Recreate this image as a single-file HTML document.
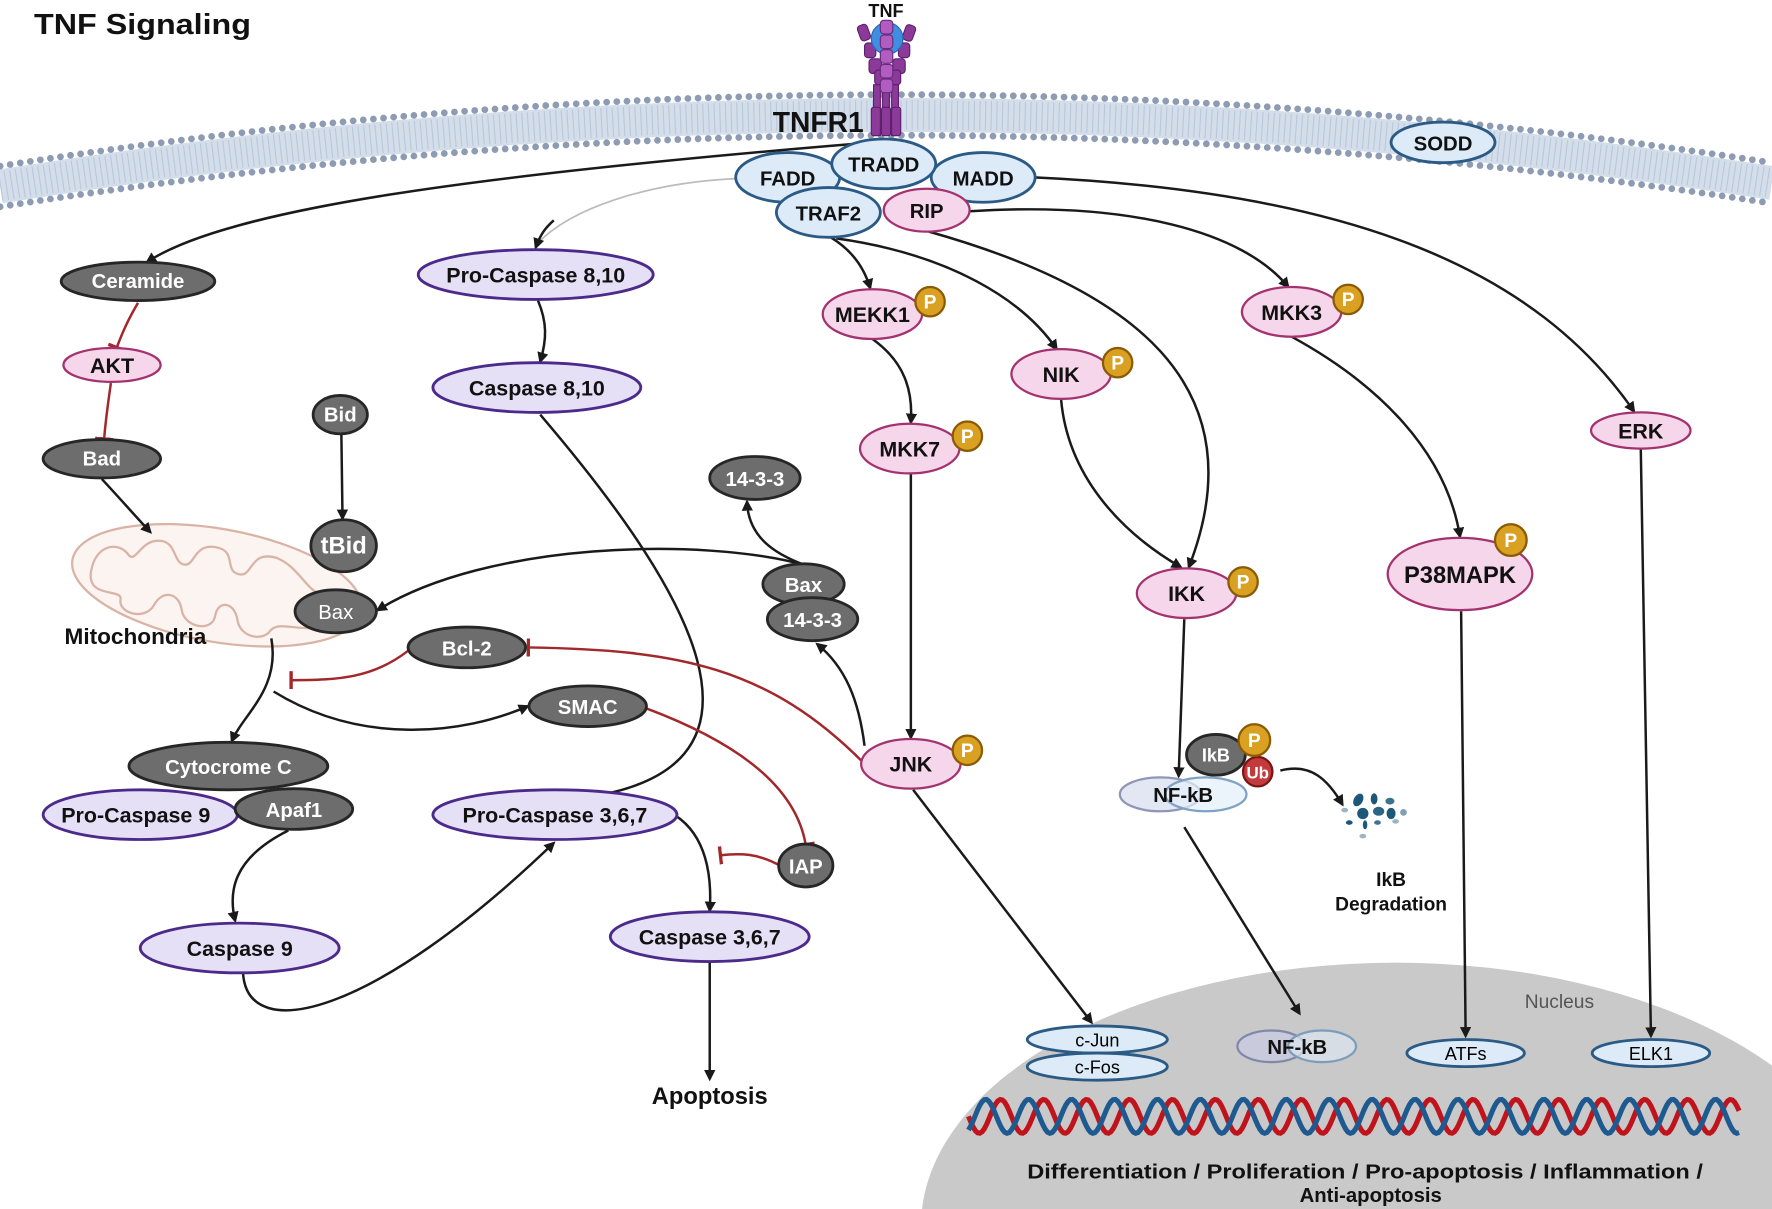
<!DOCTYPE html>
<html><head><meta charset="utf-8">
<style>
html,body{margin:0;padding:0;background:#fff;overflow:hidden;width:1772px;height:1209px;}
svg{display:block;}
text{font-family:"Liberation Sans Narrow","Liberation Sans",sans-serif;font-weight:bold;}
.g{fill:#6d6d6d;stroke:#262626;stroke-width:2.5}
.p{fill:#e6e0f6;stroke:#4b2a8c;stroke-width:2.5}
.k{fill:#f6d6ea;stroke:#a3326f;stroke-width:2}
.b{fill:#dcebf7;stroke:#2b5a85;stroke-width:2.5}
.wt{fill:#fff;font-size:18px;text-anchor:middle}
.bt{fill:#111;font-size:19px;text-anchor:middle}
.a{fill:none;stroke:#1a1a1a;stroke-width:2.2;marker-end:url(#ar)}
.r{fill:none;stroke:#a2282c;stroke-width:2.2;marker-end:url(#tb)}
.P{fill:#d9a021;stroke:#8a5a05;stroke-width:2}
.Pt{fill:#fff;font-size:17px;text-anchor:middle;font-family:"Liberation Sans",sans-serif}
</style></head>
<body>
<svg width="1772" height="1209" viewBox="0 0 1568 1070" xmlns="http://www.w3.org/2000/svg">
<defs>
<marker id="ar" markerWidth="10" markerHeight="10" refX="8" refY="5" orient="auto" markerUnits="userSpaceOnUse" viewBox="0 0 10 10"><path d="M0,0 L10,5 L0,10 z" fill="#1a1a1a"/></marker>
<marker id="tb" markerWidth="4" markerHeight="16" refX="2" refY="8" orient="auto" markerUnits="userSpaceOnUse" viewBox="0 0 4 16"><rect x="0" y="0" width="3" height="16" fill="#a2282c"/></marker>
</defs>

<!-- nucleus -->
<ellipse cx="1235" cy="1085" rx="420" ry="233" fill="#c9c9c9"/>
<g id="dna"></g>

<!-- membrane -->
<path d="M0,165 Q784,40 1568,162" fill="none" stroke="#d4deea" stroke-width="30"/>
<path d="M0,165 Q784,40 1568,162" fill="none" stroke="#b9c8da" stroke-width="26" stroke-dasharray="1 4"/>
<path d="M0,147 Q784,22 1568,144" fill="none" stroke="#8d9cb2" stroke-width="6" stroke-linecap="round" stroke-dasharray="0 9"/>
<path d="M0,183 Q784,58 1568,180" fill="none" stroke="#8d9cb2" stroke-width="6" stroke-linecap="round" stroke-dasharray="0 9"/>

<!-- TNF receptor -->
<g fill="#8c3a9a" stroke="#5e1f6b" stroke-width="1">
<rect x="773" y="75" width="6" height="45"/><rect x="781" y="75" width="6" height="45"/><rect x="789" y="75" width="6" height="45"/>
<rect x="771" y="95" width="8" height="25" rx="2"/><rect x="780" y="95" width="8" height="25" rx="2"/><rect x="789" y="95" width="8" height="25" rx="2"/>
<rect x="760" y="22" width="9" height="14" rx="3" transform="rotate(-20 764 29)"/>
<rect x="800" y="22" width="9" height="14" rx="3" transform="rotate(20 804 29)"/>
<rect x="765" y="38" width="10" height="13" rx="3"/><rect x="795" y="38" width="10" height="13" rx="3"/>
<rect x="769" y="52" width="11" height="13" rx="3"/><rect x="790" y="52" width="11" height="13" rx="3"/>
<rect x="774" y="62" width="11" height="13" rx="3"/><rect x="786" y="62" width="11" height="13" rx="3"/>
</g>
<circle cx="785" cy="34" r="14" fill="#3f8ee0" stroke="#2a66b0"/>
<g fill="#b05cc0" stroke="#6a2a7a" stroke-width="1">
<rect x="779" y="18" width="11" height="12" rx="3"/><rect x="779" y="31" width="11" height="12" rx="3"/><rect x="779" y="44" width="11" height="12" rx="3"/><rect x="779" y="57" width="11" height="12" rx="3"/><rect x="779" y="70" width="11" height="12" rx="3"/>
</g>
<text x="784" y="15" class="bt" style="font-size:16px;font-family:'Liberation Sans',sans-serif">TNF</text>
<text x="724" y="117" class="bt" style="font-size:25px;font-family:'Liberation Sans',sans-serif">TNFR1</text>
<text x="30" y="30" style="font-size:25px;font-family:'Liberation Sans',sans-serif" fill="#111" textLength="192" lengthAdjust="spacingAndGlyphs">TNF Signaling</text>

<!-- mitochondria -->
<g transform="rotate(10 192 518)">
<ellipse cx="192" cy="518" rx="130" ry="50" fill="#fcf4f1" stroke="#d9b3a6" stroke-width="2"/>
<path d="M80,525 C80,500 100,495 110,505 C118,512 118,490 135,488 C150,486 150,505 160,505 C170,505 165,485 185,485 C205,485 195,505 210,505 C222,505 215,482 240,485 C262,490 270,510 290,512 C305,515 305,535 285,540 C265,545 250,540 245,550 C240,560 220,560 215,545 C210,530 195,530 195,545 C195,560 170,560 165,545 C160,530 145,530 140,545 C135,560 110,558 110,545 C110,535 80,550 80,525 Z" fill="none" stroke="#d9b3a6" stroke-width="2"/>
</g>
<text x="57" y="570" style="font-size:20px;font-family:'Liberation Sans',sans-serif" fill="#111">Mitochondria</text>

<!-- arrows -->
<path class="a" d="M760,127 C420,155 200,185 130,232"/>
<path d="M652,158 C570,162 505,185 476,215" fill="none" stroke="#bbb" stroke-width="1.5"/>
<path class="a" d="M490,195 C482,202 478,208 474,219"/>
<path class="a" d="M476,266 C484,285 484,300 478,320"/>
<path class="a" d="M478,367 C600,510 720,690 497,708"/>
<path class="a" d="M735,210 C755,222 765,238 770,255"/>
<path class="a" d="M740,211 C840,225 905,265 935,309"/>
<path class="a" d="M822,205 C1000,255 1115,340 1052,502"/>
<path class="a" d="M858,187 C1000,178 1100,205 1140,254"/>
<path class="a" d="M915,157 C1200,170 1360,240 1446,364"/>
<path class="a" d="M772,300 C800,320 808,345 806,374"/>
<path class="a" d="M806,420 L806,653"/>
<path class="a" d="M939,354 C945,420 990,470 1045,502"/>
<path class="a" d="M1143,298 C1220,340 1280,400 1292,475"/>
<path class="a" d="M1452,397 L1461,917"/>
<path class="a" d="M1293,541 L1297,917"/>
<path class="a" d="M1048,548 L1043,687"/>
<path class="a" d="M1048,732 L1150,897"/>
<path class="a" d="M808,699 L966,905"/>
<path class="a" d="M765,660 C760,620 748,590 723,570"/>
<path class="a" d="M712,500 C685,490 662,475 661,444"/>
<path class="a" d="M712,500 C620,475 430,480 334,540"/>
<path class="a" d="M90,424 C105,440 118,455 133,471"/>
<path class="a" d="M302,385 L303,459"/>
<path class="a" d="M240,565 C248,610 215,632 205,656"/>
<path class="a" d="M242,612 C320,660 410,650 467,625"/>
<path class="a" d="M255,735 C205,760 202,790 208,815"/>
<path class="a" d="M215,862 C220,925 330,900 490,746"/>
<path class="a" d="M598,722 C625,740 630,775 628,806"/>
<path class="a" d="M628,852 L628,955"/>
<path class="a" d="M1133,682 C1160,675 1175,690 1188,712"/>
<!-- inhibitions -->
<path class="r" d="M122,268 C112,285 108,295 103,308"/>
<path class="r" d="M98,339 C95,360 93,375 92,389"/>
<path class="r" d="M361,576 C330,600 300,602 257,602"/>
<path class="r" d="M765,676 C680,590 600,575 467,573"/>
<path class="r" d="M572,627 C660,660 705,700 713,748"/>
<path class="r" d="M690,766 C670,755 655,755 637,757"/>

<!-- grey nodes -->
<g>
<ellipse class="g" cx="122" cy="249" rx="68" ry="17"/><text class="wt" x="122" y="255">Ceramide</text>
<ellipse class="g" cx="90" cy="406" rx="52" ry="17"/><text class="wt" x="90" y="412">Bad</text>
<ellipse class="g" cx="301" cy="367" rx="24" ry="17"/><text class="wt" x="301" y="373">Bid</text>
<ellipse class="g" cx="304" cy="483" rx="29" ry="23" stroke-width="3"/><text class="wt" x="304" y="490" style="font-size:21px">tBid</text>
<ellipse class="g" cx="297" cy="541" rx="36" ry="19"/><text class="wt" x="297" y="548" style="font-weight:normal;font-family:'Liberation Sans',sans-serif">Bax</text>
<ellipse class="g" cx="668" cy="423" rx="40" ry="19"/><text class="wt" x="668" y="430">14-3-3</text>
<ellipse class="g" cx="711" cy="517" rx="36" ry="18"/><text class="wt" x="711" y="524">Bax</text>
<ellipse class="g" cx="719" cy="548" rx="40" ry="19"/><text class="wt" x="719" y="555">14-3-3</text>
<ellipse class="g" cx="413" cy="573" rx="52" ry="18"/><text class="wt" x="413" y="580">Bcl-2</text>
<ellipse class="g" cx="520" cy="625" rx="52" ry="18"/><text class="wt" x="520" y="632">SMAC</text>
<ellipse class="g" cx="202" cy="678" rx="88" ry="21"/><text class="wt" x="202" y="685">Cytocrome C</text>
<ellipse class="p" cx="124" cy="721" rx="86" ry="22"/><text class="bt" x="120" y="728">Pro-Caspase 9</text>
<ellipse class="g" cx="260" cy="716" rx="52" ry="18"/><text class="wt" x="260" y="723">Apaf1</text>
<ellipse class="g" cx="713" cy="766" rx="24" ry="19"/><text class="wt" x="713" y="773">IAP</text>
</g>
<!-- purple -->
<ellipse class="p" cx="474" cy="243" rx="104" ry="22"/><text class="bt" x="474" y="250">Pro-Caspase 8,10</text>
<ellipse class="p" cx="475" cy="343" rx="92" ry="22"/><text class="bt" x="475" y="350">Caspase 8,10</text>
<ellipse class="p" cx="491" cy="721" rx="108" ry="22"/><text class="bt" x="491" y="728">Pro-Caspase 3,6,7</text>
<ellipse class="p" cx="212" cy="839" rx="88" ry="22"/><text class="bt" x="212" y="846">Caspase 9</text>
<ellipse class="p" cx="628" cy="829" rx="88" ry="22"/><text class="bt" x="628" y="836">Caspase 3,6,7</text>
<!-- pink -->
<ellipse class="k" cx="99" cy="323" rx="43" ry="15"/><text class="bt" x="99" y="330">AKT</text>
<ellipse class="k" cx="772" cy="278" rx="44" ry="22"/><text class="bt" x="772" y="285">MEKK1</text>
<ellipse class="k" cx="939" cy="331" rx="44" ry="22"/><text class="bt" x="939" y="338">NIK</text>
<ellipse class="k" cx="805" cy="397" rx="44" ry="22"/><text class="bt" x="805" y="404">MKK7</text>
<ellipse class="k" cx="1143" cy="276" rx="44" ry="22"/><text class="bt" x="1143" y="283">MKK3</text>
<ellipse class="k" cx="1452" cy="381" rx="44" ry="16"/><text class="bt" x="1452" y="388">ERK</text>
<ellipse class="k" cx="1050" cy="525" rx="44" ry="22"/><text class="bt" x="1050" y="532">IKK</text>
<ellipse class="k" cx="1292" cy="508" rx="64" ry="32"/><text class="bt" x="1292" y="516" style="font-size:21px">P38MAPK</text>
<ellipse class="k" cx="806" cy="676" rx="44" ry="22"/><text class="bt" x="806" y="683">JNK</text>
<!-- complex -->
<ellipse class="b" cx="697" cy="157" rx="46" ry="22"/><text class="bt" x="697" y="164" style="font-family:'Liberation Sans',sans-serif;font-size:18px">FADD</text>
<ellipse class="b" cx="870" cy="157" rx="46" ry="22"/><text class="bt" x="870" y="164" style="font-family:'Liberation Sans',sans-serif;font-size:18px">MADD</text>
<ellipse class="b" cx="782" cy="145" rx="46" ry="22"/><text class="bt" x="782" y="152" style="font-family:'Liberation Sans',sans-serif;font-size:18px">TRADD</text>
<ellipse class="b" cx="733" cy="188" rx="46" ry="22"/><text class="bt" x="733" y="195" style="font-family:'Liberation Sans',sans-serif;font-size:18px">TRAF2</text>
<ellipse class="k" cx="820" cy="186" rx="38" ry="19" stroke-width="2.5"/><text class="bt" x="820" y="193" style="font-family:'Liberation Sans',sans-serif;font-size:18px">RIP</text>
<ellipse class="b" cx="1277" cy="126" rx="46" ry="18"/><text class="bt" x="1277" y="133" style="font-family:'Liberation Sans',sans-serif;font-size:18px">SODD</text>
<!-- NF-kB cyto -->
<ellipse cx="1027" cy="703" rx="36" ry="15" fill="#e3e6f3" stroke="#8f96b6" stroke-width="2"/>
<ellipse cx="1067" cy="703" rx="36" ry="15" fill="#e4eff9" fill-opacity="0.7" stroke="#7fa2c4" stroke-width="2"/>
<text class="bt" x="1047" y="710" style="font-family:'Liberation Sans',sans-serif;font-size:18px">NF-kB</text>
<ellipse class="g" cx="1076" cy="668" rx="26" ry="18"/><text class="wt" x="1076" y="674" style="font-size:16px">IkB</text>
<circle cx="1113" cy="683" r="13" fill="#c33a3d" stroke="#7a1416" stroke-width="2"/><text class="Pt" x="1113" y="689" style="font-size:15px">Ub</text>
<!-- P badges -->
<g>
<circle class="P" cx="823" cy="267" r="13"/><text class="Pt" x="823" y="273">P</text>
<circle class="P" cx="989" cy="321" r="13"/><text class="Pt" x="989" y="327">P</text>
<circle class="P" cx="856" cy="386" r="13"/><text class="Pt" x="856" y="392">P</text>
<circle class="P" cx="1193" cy="265" r="13"/><text class="Pt" x="1193" y="271">P</text>
<circle class="P" cx="1100" cy="515" r="13"/><text class="Pt" x="1100" y="521">P</text>
<circle class="P" cx="1337" cy="478" r="14"/><text class="Pt" x="1337" y="484">P</text>
<circle class="P" cx="856" cy="664" r="13"/><text class="Pt" x="856" y="670">P</text>
<circle class="P" cx="1110" cy="655" r="14"/><text class="Pt" x="1110" y="661">P</text>
</g>
<!-- degradation fragments -->
<g fill="#1d5878">
<ellipse cx="1202" cy="708" rx="4" ry="6" transform="rotate(30 1202 708)"/>
<ellipse cx="1216" cy="707" rx="3" ry="5"/>
<ellipse cx="1230" cy="709" rx="4" ry="3" fill="#3a7090"/>
<ellipse cx="1206" cy="720" rx="5" ry="5"/>
<ellipse cx="1220" cy="718" rx="5" ry="4" fill="#2a6585"/>
<ellipse cx="1231" cy="720" rx="4" ry="5"/>
<ellipse cx="1194" cy="728" rx="3" ry="2"/>
<ellipse cx="1208" cy="730" rx="2" ry="4"/>
<ellipse cx="1219" cy="728" rx="3" ry="2" fill="#3d7595"/>
<ellipse cx="1235" cy="727" rx="3" ry="2" fill="#9ab5c5"/>
<ellipse cx="1242" cy="719" rx="3" ry="3" fill="#7fa0b5"/>
<ellipse cx="1190" cy="717" rx="3" ry="2" fill="#9ab5c5"/>
<ellipse cx="1206" cy="740" rx="3" ry="2" fill="#9ab5c5"/>
</g>
<text class="bt" x="1231" y="784" style="font-family:'Liberation Sans',sans-serif;font-size:17px">IkB</text>
<text class="bt" x="1231" y="806" style="font-family:'Liberation Sans',sans-serif;font-size:17px">Degradation</text>
<text class="bt" x="628" y="977" style="font-size:21px">Apoptosis</text>
<!-- nucleus content -->
<text x="1380" y="892" fill="#555" style="font-weight:normal;font-size:17px;text-anchor:middle">Nucleus</text>
<ellipse class="b" cx="971" cy="920" rx="62" ry="12" stroke-width="2"/><text x="971" y="926" style="font-weight:normal;font-size:16px;text-anchor:middle">c-Jun</text>
<ellipse class="b" cx="971" cy="944" rx="62" ry="12" stroke-width="2"/><text x="971" y="950" style="font-weight:normal;font-size:16px;text-anchor:middle">c-Fos</text>
<ellipse class="b" cx="1297" cy="932" rx="52" ry="12" stroke-width="2"/><text x="1297" y="938" style="font-weight:normal;font-size:16px;text-anchor:middle">ATFs</text>
<ellipse class="b" cx="1461" cy="932" rx="52" ry="12" stroke-width="2"/><text x="1461" y="938" style="font-weight:normal;font-size:16px;text-anchor:middle">ELK1</text>
<ellipse cx="1125" cy="926" rx="30" ry="14" fill="#c9cbdc" stroke="#8088a8" stroke-width="2"/>
<ellipse cx="1170" cy="926" rx="30" ry="14" fill="#dde6ef" fill-opacity="0.7" stroke="#7d9dbb" stroke-width="2"/>
<text class="bt" x="1148" y="933" style="font-family:'Liberation Sans',sans-serif;font-size:18px">NF-kB</text>
<text class="bt" x="1208" y="1043" style="font-size:18px" textLength="598" lengthAdjust="spacingAndGlyphs">Differentiation / Proliferation / Pro-apoptosis / Inflammation /</text>
<text class="bt" x="1213" y="1064" style="font-size:18px">Anti-apoptosis</text>
</svg>
<script>
(function(){
  var g=document.getElementById('dna');var ns='http://www.w3.org/2000/svg';
  function path(ph,col){var d='';for(var x=857;x<=1540;x+=2){var y=988+15*Math.sin((x-857)/38*2*Math.PI+ph);d+=(x==857?'M':'L')+x+','+y.toFixed(1);}
    var p=document.createElementNS(ns,'path');p.setAttribute('d',d);p.setAttribute('fill','none');p.setAttribute('stroke',col);p.setAttribute('stroke-width','4.5');g.appendChild(p);}
  path(0,'#c0141c');path(Math.PI*0.7,'#1e5a8f');
})();
</script>
</body></html>
